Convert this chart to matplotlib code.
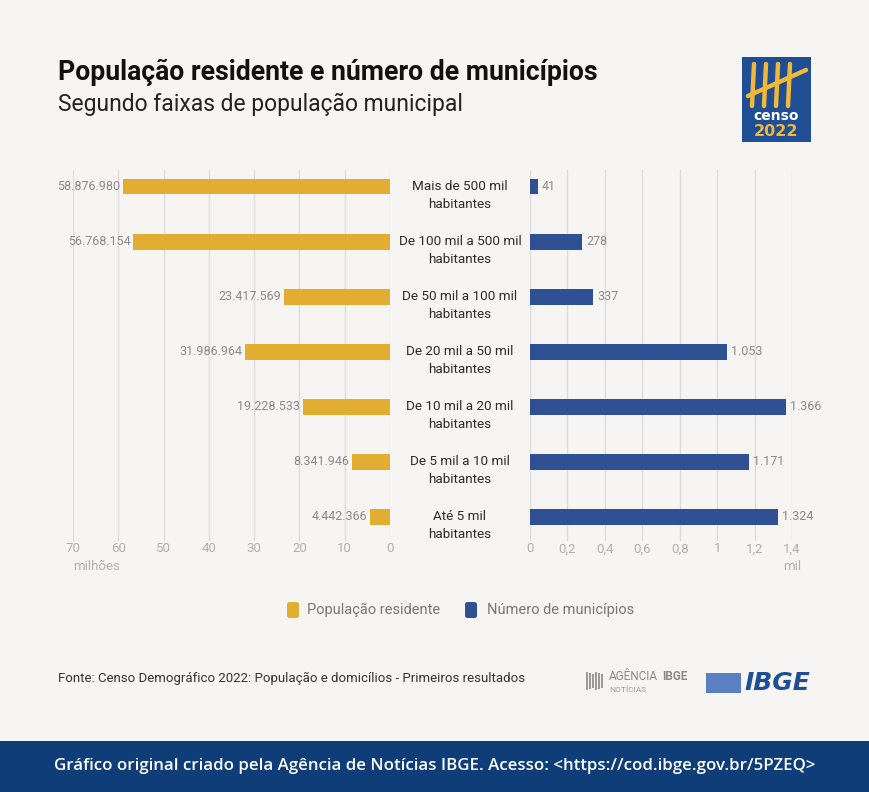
import matplotlib.pyplot as plt
from matplotlib.patches import Rectangle, FancyBboxPatch

# Data
faixas = ['Mais de 500 mil\nhabitantes', 'De 100 mil a 500 mil\nhabitantes',
          'De 50 mil a 100 mil\nhabitantes', 'De 20 mil a 50 mil\nhabitantes',
          'De 10 mil a 20 mil\nhabitantes', 'De 5 mil a 10 mil\nhabitantes',
          'Até 5 mil\nhabitantes']
populacao = [58876980, 56768154, 23417569, 31986964, 19228533, 8341946, 4442366]
municipios = [41, 278, 337, 1053, 1366, 1171, 1324]
pop_ticks = [0, 10, 20, 30, 40, 50, 60, 70]
mun_ticks = [0, 0.2, 0.4, 0.6, 0.8, 1, 1.2, 1.4]

plt.rcParams['font.family'] = ['Roboto', 'DejaVu Sans']

W, H = 870, 792
BG = '#f6f5f3'
GOLD = '#e2ae32'
BLUE = '#2f5193'
GRID = '#dcdcdc'
TICK = '#b0b0b0'
VAL = '#8a8a8a'


def br(n):
    return f'{n:,}'.replace(',', '.')


fig = plt.figure(figsize=(W / 100, H / 100), dpi=100, facecolor=BG)


def fx(px):
    return px / W


def fy(py):
    return 1 - py / H


top, bottom = 170, 541
ypos = list(range(len(faixas)))
ylim = (6.44, -0.3)

# Left axes: population (millions)
axl = fig.add_axes([fx(73), fy(bottom), fx(390 - 73), (bottom - top) / H])
axl.set_facecolor('none')
axl.barh(ypos, [p / 1e6 for p in populacao], height=0.29, color=GOLD, zorder=3)
axl.set_xlim(70, 0)
axl.set_ylim(*ylim)
axl.set_xticks(pop_ticks)
axl.set_xticklabels([str(t) for t in pop_ticks])
for i, p in enumerate(populacao):
    axl.text(p / 1e6 + 0.6, i, br(p), ha='right', va='center', fontsize=9, color=VAL)

# Right axes: number of municipalities (thousands)
axr = fig.add_axes([fx(530), fy(bottom), fx(792 - 530), (bottom - top) / H])
axr.set_facecolor('none')
axr.barh(ypos, [m / 1000 for m in municipios], height=0.29, color=BLUE, zorder=3)
axr.set_xlim(0, 1.4)
axr.set_ylim(*ylim)
axr.set_xticks(mun_ticks)
axr.set_xticklabels([f'{t:g}'.replace('.', ',') for t in mun_ticks])
for i, m in enumerate(municipios):
    axr.text(m / 1000 + 0.022, i, br(m), ha='left', va='center', fontsize=9, color=VAL,
             clip_on=False)

for ax in (axl, axr):
    ax.grid(axis='x', color=GRID, linewidth=1, zorder=0)
    ax.set_yticks([])
    for s in ax.spines.values():
        s.set_visible(False)
    ax.tick_params(axis='x', length=0, labelsize=9.5, labelcolor=TICK, pad=1)

# Category labels in the middle
for i, f in enumerate(faixas):
    fig.text(fx(460), fy(187 + 55 * i - 7), f, ha='center', va='top', fontsize=9.7,
             color='#2b2b2b', linespacing=1.5)

fig.text(fx(73), fy(567), 'milhões', ha='left', va='center', fontsize=9.5, color=TICK)
fig.text(fx(792), fy(567), 'mil', ha='center', va='center', fontsize=9.5, color=TICK)

# Titles
fig.text(fx(58), fy(72), 'População residente e número de municípios', ha='left', va='center',
         fontsize=19.2, fontweight='bold', color='#111111')
fig.text(fx(58), fy(104), 'Segundo faixas de população municipal', ha='left', va='center',
         fontsize=16.5, color='#222222')

# Censo 2022 badge
fig.patches.append(Rectangle((fx(742), fy(142)), fx(69), 85 / H, transform=fig.transFigure,
                             facecolor='#1f4e94', edgecolor='none'))
for k in range(4):
    x0 = 752 + k * 12
    fig.add_artist(plt.Line2D([fx(x0 + 2), fx(x0)], [fy(64), fy(106)], transform=fig.transFigure,
                              color='#f0b83a', linewidth=3.2, solid_capstyle='round'))
fig.add_artist(plt.Line2D([fx(748), fx(806)], [fy(96), fy(70)], transform=fig.transFigure,
                          color='#f0b83a', linewidth=3.2, solid_capstyle='round'))
fig.text(fx(776), fy(116), 'censo', ha='center', va='center', fontsize=10, fontweight='bold',
         color='white', family=['DejaVu Sans'])
fig.text(fx(776), fy(132), '2022', ha='center', va='center', fontsize=11.5, fontweight='bold',
         color='#f0b83a', family=['DejaVu Sans'])

# Legend
fig.patches.append(FancyBboxPatch((fx(287), fy(618)), fx(12), 16 / H, transform=fig.transFigure,
                                  boxstyle='round,pad=0,rounding_size=0.003',
                                  facecolor=GOLD, edgecolor='none'))
fig.text(fx(307), fy(610), 'População residente', ha='left', va='center', fontsize=10.5,
         color='#777777')
fig.patches.append(FancyBboxPatch((fx(465), fy(618)), fx(12), 16 / H, transform=fig.transFigure,
                                  boxstyle='round,pad=0,rounding_size=0.003',
                                  facecolor=BLUE, edgecolor='none'))
fig.text(fx(487), fy(610), 'Número de municípios', ha='left', va='center', fontsize=10.5,
         color='#777777')

# Source and logos
fig.text(fx(58), fy(678), 'Fonte: Censo Demográfico 2022: População e domicílios - Primeiros resultados',
         ha='left', va='center', fontsize=9.5, color='#333333')
for k in range(6):
    fig.patches.append(Rectangle((fx(586 + k * 3), fy(690 - k % 3)), fx(2), (18 - 2 * (k % 3)) / H,
                                 transform=fig.transFigure, facecolor='#9a9a9a', edgecolor='none'))
fig.text(fx(609), fy(677), 'AGÊNCIA', ha='left', va='center', fontsize=8.5, color='#8a8a8a')
fig.text(fx(662), fy(677), 'IBGE', ha='left', va='center', fontsize=8.5, fontweight='bold',
         color='#8a8a8a')
fig.text(fx(609), fy(690), 'NOTÍCIAS', ha='left', va='center', fontsize=6, color='#9a9a9a')
fig.patches.append(Rectangle((fx(706), fy(693)), fx(35), 20 / H, transform=fig.transFigure,
                             facecolor='#5b7fc0', edgecolor='none'))
fig.text(fx(744), fy(683), 'IBGE', ha='left', va='center', fontsize=18, fontweight='bold',
         style='italic', color='#1f4e94', family=['DejaVu Sans'])

# Bottom band
fig.patches.append(Rectangle((0, 0), 1, 51 / H, transform=fig.transFigure,
                             facecolor='#0f3d78', edgecolor='none'))
fig.text(0.5, fy(766), 'Gráfico original criado pela Agência de Notícias IBGE. Acesso: <https://cod.ibge.gov.br/5PZEQ>',
         ha='center', va='center', fontsize=12.2, fontweight='semibold', color='white',
         family=['Open Sans', 'DejaVu Sans'])

fig.savefig('out.png', dpi=100, facecolor=BG)
